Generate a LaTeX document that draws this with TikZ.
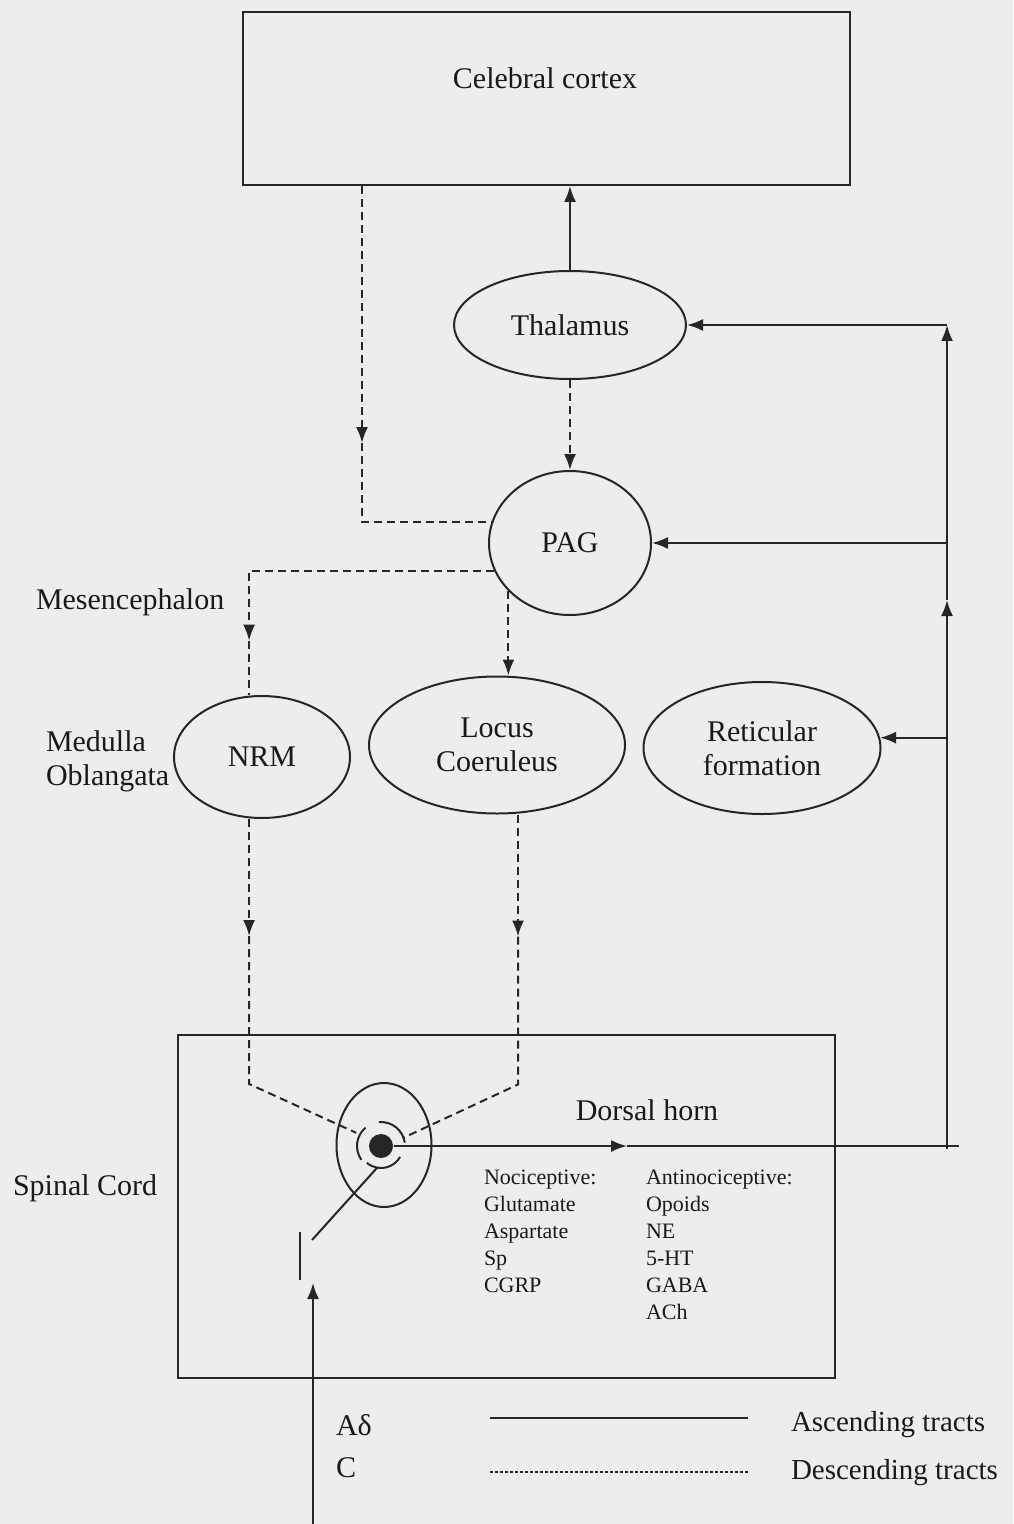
\documentclass[tikz,border=0pt]{standalone}
\usepackage{fontspec}
\setmainfont{Liberation Serif}
\usepackage{tikz}
\usetikzlibrary{shapes.geometric,arrows.meta}

\begin{document}
\begin{tikzpicture}[x=0.5pt, y=-0.5pt, line width=1pt, draw=black!85,
  >={Latex[length=8pt,width=6pt]},
  lbl/.style={inner sep=0pt, text=black!90, font=\fontsize{15pt}{17pt}\selectfont},
  small/.style={inner sep=0pt, text=black!90, font=\fontsize{11pt}{13pt}\selectfont},
  leg/.style={inner sep=0pt, text=black!90, font=\fontsize{14.5pt}{16pt}\selectfont},
  box/.style={draw, rectangle, inner sep=0pt},
  oval/.style={draw, ellipse, inner sep=0pt, align=center, lbl},
  asc/.style={draw},
  desc/.style={draw, dash pattern=on 4pt off 2.5pt},
  legdash/.style={draw, dash pattern=on 1.5pt off 1pt}]
 \fill[black!7] (0,0) rectangle (1013,1524);
 \useasboundingbox (0,0) rectangle (1013,1524);

 \node[box, minimum width=303.5pt, minimum height=86.5pt] (cortex) at (546.5,98.5) {};
 \node[lbl] (cortexlbl) at (545,78) {Celebral cortex};
 \node[oval, minimum width=116pt, minimum height=54pt] (thal) at (570,325) {Thalamus};
 \node[oval, minimum width=81pt, minimum height=72pt] (pag) at (570,543) {PAG};
 \node[oval, minimum width=88pt, minimum height=61pt] (nrm) at (262,757) {NRM};
 \node[oval, minimum width=128pt, minimum height=68.5pt] (lc) at (497,745) {Locus\\Coeruleus};
 \node[oval, minimum width=118.5pt, minimum height=66pt] (rf) at (762,748) {Reticular\\formation};
 \node[box, minimum width=328.5pt, minimum height=171.5pt] (cord) at (506.5,1206.5) {};
 \node[lbl] (dh) at (647,1110) {Dorsal horn};
 \node[oval, minimum width=47.5pt, minimum height=62pt] (cell) at (384,1145) {};
 \node[circle, fill=black!85, minimum size=12pt, inner sep=0pt] (soma) at (381,1146) {};

 \node[lbl, anchor=west] (mes) at (35,602) {Mesencephalon};
 \node[lbl, anchor=west, align=left] (med) at (45,761) {Medulla\\Oblangata};
 \node[lbl, anchor=west] (spinal) at (12,1188) {Spinal Cord};
 \foreach \t [count=\i] in {Nociceptive:,Glutamate,Aspartate,Sp,CGRP}
   \node[small, anchor=base west] (noci\i) at (483,1157+27*\i) {\t};
 \foreach \t [count=\i] in {Antinociceptive:,Opoids,NE,5-HT,GABA,ACh}
   \node[small, anchor=base west] (anti\i) at (645,1157+27*\i) {\t};

 \draw[asc,->] (thal.north) -- (thal.north |- cortex.south);
 \draw[asc,->] (soma.east) -- ++(233,0) coordinate (mid1);
 \draw[asc] (mid1) -- ++(332,0);
 \coordinate (turn) at (947,1149);
 \draw[asc,->] (turn) -- ++(0,-549) coordinate (mid2);
 \draw[asc,->] (mid2) -- (mid2 |- thal.east);
 \draw[asc,->] (mid2 |- thal.east) -- (thal.east);
 \draw[asc,->] (mid2 |- pag.east) -- (pag.east);
 \draw[asc,->] (mid2 |- rf.5) -- (rf.5);

 \draw[desc,->] ([xshift=60pt]cortex.south west) -- ++(0,257) coordinate (d1);
 \draw[desc] (d1) |- (pag.165);
 \draw[desc,->] (thal.south) -- (pag.north);
 \draw[desc,->] (pag.200) -| ++(-245,70) coordinate (d2);
 \draw[desc] (d2) -- (d2 |- nrm.north);
 \draw[desc,->] (pag.218) -- (pag.218 |- lc.north);
 \draw[desc,->] (d2 |- nrm.south) -- ++(0,117) coordinate (d3);
 \draw[desc] (d3) -- ++(0,148) -- ([shift={(152:14pt)}]soma.center);
 \draw[desc,->] ([xshift=10.5pt]lc.south) -- ++(0,122) coordinate (d4);
 \draw[desc] (d4) -- ++(0,148) -- ([shift={(20:11.5pt)}]soma.center);

 \draw ([shift={(130:12pt)}]soma.center) arc[start angle=130, end angle=215, radius=12pt];
 \draw ([shift={(8:12pt)}]soma.center) arc[start angle=8, end angle=95, radius=12pt];
 \draw ([shift={(230:11pt)}]soma.center) arc[start angle=230, end angle=330, radius=11pt];
 \coordinate (ax) at (312,1240);
 \draw ([shift={(260:11pt)}]soma.center) -- (ax);
 \coordinate (tick) at (300,1232);
 \draw (tick) -- ++(0,48);
 \coordinate (aff) at (313,1524);
 \draw[asc,->] (aff) -- ++(0,-241);

 \node[lbl, anchor=west] (adelta) at (335,1425) {Aδ};
 \node[lbl, anchor=west] (cfib) at (335,1468) {C};
 \coordinate (ls) at (490,1418);
 \draw[asc] (ls) -- ++(258,0);
 \coordinate (ld) at (490,1472);
 \draw[legdash] (ld) -- ++(258,0);
 \node[leg, anchor=west] (asctxt) at (790,1425) {Ascending tracts};
 \node[leg, anchor=west] (desctxt) at (790,1473) {Descending tracts};
\end{tikzpicture}
\end{document}
